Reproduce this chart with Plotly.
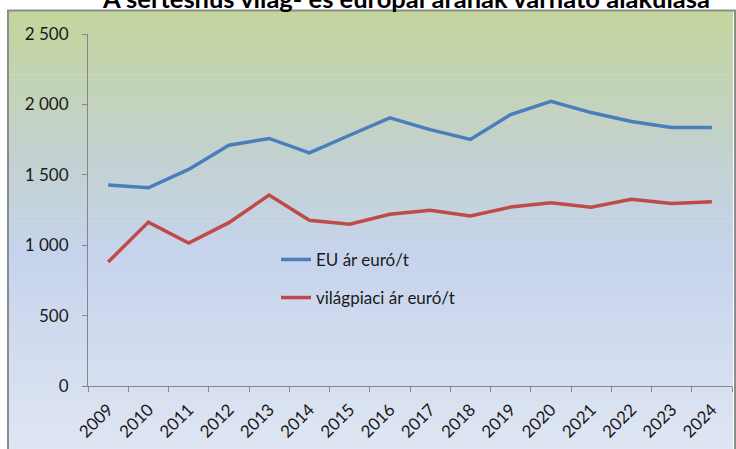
import plotly.graph_objects as go

years = ["2009", "2010", "2011", "2012", "2013", "2014", "2015", "2016",
         "2017", "2018", "2019", "2020", "2021", "2022", "2023", "2024"]
eu_price = [1427, 1408, 1538, 1710, 1758, 1656, 1781, 1904,
            1821, 1751, 1928, 2022, 1942, 1878, 1836, 1836]
world_price = [880, 1164, 1016, 1160, 1356, 1177, 1149, 1220,
               1248, 1208, 1271, 1302, 1269, 1326, 1297, 1309]
y_tickvals = [0, 500, 1000, 1500, 2000, 2500]
y_ticktext = ["0", "500", "1 000", "1 500", "2 000", "2 500"]
series_names = ["EU ár euró/t", "világpiaci ár euró/t"]
title_text = "A sertéshús világ- és európai árának várható alakulása"

W, H = 736, 449
L, R, T, B = 88, 4, 33.5, 62.5
pw, ph = W - L - R, H - T - B


def px_x(px):
    return (px - L) / pw


def px_y(py):
    return (H - B - py) / ph


def lerp(c1, c2, t):
    return tuple(round(a + (b - a) * t) for a, b in zip(c1, c2))


stops = [(0.0, (195, 214, 155)), (0.33, (195, 209, 208)),
         (0.55, (198, 211, 236)), (1.0, (223, 230, 243))]


def grad(t):
    for (t0, c0), (t1, c1) in zip(stops[:-1], stops[1:]):
        if t <= t1:
            return lerp(c0, c1, (t - t0) / (t1 - t0))
    return stops[-1][1]


shapes = []
top, bot, left, right = 10, 452, 8, 733
n = 90
for i in range(n):
    y0 = top + (bot - top) * i / n
    y1 = top + (bot - top) * (i + 1) / n + 0.6
    c = grad((i + 0.5) / n)
    shapes.append(dict(type="rect", xref="paper", yref="paper",
                       x0=px_x(left), x1=px_x(right), y0=px_y(y0), y1=px_y(y1),
                       fillcolor="rgb(%d,%d,%d)" % c, line=dict(width=0),
                       layer="below"))
shapes.append(dict(type="rect", xref="paper", yref="paper",
                   x0=px_x(left), x1=px_x(right + 2), y0=px_y(top), y1=px_y(bot),
                   line=dict(color="#8c8c8c", width=2), layer="below"))

fig = go.Figure()
fig.add_trace(go.Scatter(x=years, y=eu_price, mode="lines", name=series_names[0],
                         line=dict(color="#4a7ebb", width=3.5), legendgroup="a"))
fig.add_trace(go.Scatter(x=years, y=world_price, mode="lines", name=series_names[1],
                         line=dict(color="#be4b48", width=3.5), legendgroup="b"))

font_family = "Lato, Calibri, sans-serif"
fig.update_layout(
    width=W, height=H,
    margin=dict(l=L, r=R, t=T, b=B, pad=0),
    paper_bgcolor="white",
    plot_bgcolor="rgba(0,0,0,0)",
    font=dict(family=font_family, size=17, color="#1a1a1a"),
    shapes=shapes,
    showlegend=True,
    legend=dict(x=px_x(276), y=px_y(242), xanchor="left", yanchor="top",
                bgcolor="rgba(0,0,0,0)", font=dict(size=17, color="#1a1a1a"),
                tracegroupgap=13, traceorder="grouped"),
    annotations=[dict(text="<b>" + title_text + "</b>", xref="paper", yref="paper",
                      x=px_x(406), y=px_y(14), xanchor="center", yanchor="bottom",
                      showarrow=False, font=dict(size=25.5, color="black"))],
    xaxis=dict(type="category", tickson="boundaries", ticks="outside", ticklen=5,
               tickcolor="#868686", showline=True, linecolor="#868686", linewidth=1,
               showgrid=False, tickangle=-45, range=[-0.5, 15.5],
               ticklabelstandoff=6,
               tickfont=dict(size=17, color="#1a1a1a")),
    yaxis=dict(range=[0, 2500], tickvals=y_tickvals, ticktext=y_ticktext,
               ticks="outside", ticklen=5, tickcolor="#868686", showline=True,
               linecolor="#868686", linewidth=1, showgrid=False, zeroline=False,
               ticklabelstandoff=10, tickfont=dict(size=17, color="#1a1a1a")),
)

fig.write_html("out.html", config={"displayModeBar": False},
               post_script="document.body.style.margin='0px';")
